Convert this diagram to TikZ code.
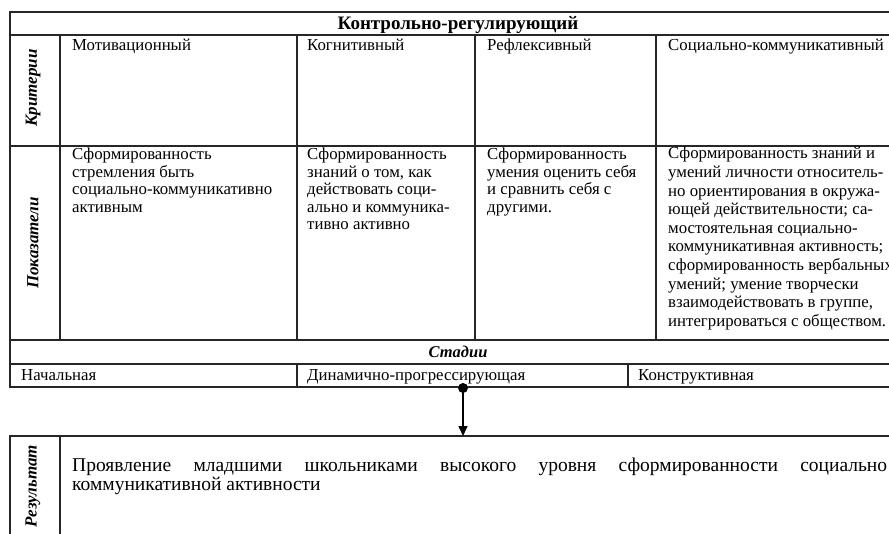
\documentclass[tikz,border=0pt]{standalone}
\usepackage{fontspec}
\setmainfont{Liberation Serif}
\usetikzlibrary{arrows.meta}
\begin{document}
\begin{tikzpicture}[x=1pt,y=-1pt,
  grid/.style={line width=1.3pt, draw=black!85},
  celltext/.style={anchor=north west, inner sep=0pt, align=left,
    font=\fontsize{16.8}{17.5}\selectfont, execute at begin node=\strut},
  headtext/.style={anchor=base, inner sep=0pt,
    font=\fontsize{19}{21}\selectfont\bfseries},
  stagehead/.style={anchor=base, inner sep=0pt,
    font=\fontsize{16.5}{18}\selectfont\bfseries\itshape},
  sidelabel/.style={rotate=90, inner sep=0pt,
    font=\fontsize{17}{19}\selectfont\bfseries\itshape},
  flow/.style={line width=1.6pt, draw=black, -{Triangle[length=10pt,width=9pt]}},
]
\useasboundingbox (0,0) rectangle (889,533);
\clip (0,0) rectangle (889,533);

% ---- main table: rules ----
\draw[grid] (920,12) -- (10,12) -- (10,387) -- (920,387);
\draw[grid] (10,35) -- (920,35);
\draw[grid] (10,146) -- (920,146);
\draw[grid] (10,340) -- (920,340);
\draw[grid] (10,364) -- (920,364);
\foreach \cx in {60,297,475,656} \draw[grid] (\cx,35) -- (\cx,340);
\draw[grid] (297,364) -- (297,387);
\draw[grid] (628,364) -- (628,387);

% ---- heading ----
\node[headtext] (title) at (458,29) {Контрольно-регулирующий};

% ---- side labels ----
\node[sidelabel] (crit) at (33,88) {Критерии};
\node[sidelabel] (ind) at (33,243) {Показатели};

% ---- criteria (first baseline at y = 50.5) ----
\node[celltext] (mot) at (72,38.25) {Мотивационный};
\node[celltext] (cog) at (307,38.25) {Когнитивный};
\node[celltext] (ref) at (487,38.25) {Рефлексивный};
\node[celltext] (soc) at (668,38.25) {Социально-коммуникативный};

% ---- indicators (first baseline at y = 160) ----
\node[celltext] (motind) at (72,147.75) {Сформированность\\стремления быть\\социально-коммуникативно\\активным};
\node[celltext] (cogind) at (307,147.75) {Сформированность\\знаний о том, как\\действовать соци-\\ально и коммуника-\\тивно активно};
\node[celltext] (refind) at (487,147.75) {Сформированность\\умения оценить себя\\и сравнить себя с\\другими.};
\node[celltext, font=\fontsize{16.8}{18.6}\selectfont] (socind) at (668,147) {Сформированность знаний и\\умений личности относитель-\\но ориентирования в окружа-\\ющей действительности; са-\\мостоятельная социально-\\коммуникативная активность;\\сформированность вербальных\\умений; умение творчески\\взаимодействовать в группе,\\интегрироваться с обществом.};

% ---- stages ----
\node[stagehead] (stages) at (458,357) {Стадии};
\node[celltext] (st1) at (21,367.75) {Начальная};
\node[celltext] (st2) at (307,367.75) {Динамично-прогрессирующая};
\node[celltext] (st3) at (638,367.75) {Конструктивная};

% ---- result box ----
\draw[grid] (920,436) -- (10,436) -- (10,545);
\draw[grid] (60,436) -- (60,545);
\node[sidelabel] (res) at (33,486) {Результат};
\node[celltext, font=\fontsize{19.5}{19.5}\selectfont] (restext) at (72,457.5)
  {\makebox[815pt][s]{Проявление младшими школьниками высокого уровня сформированности социально}\\коммуникативной активности};

% ---- transition from stages to result ----
\coordinate (src) at (463,388);
\coordinate (dst) at (463,436);
\fill (src) circle (5);
\draw[flow] (src) -- (dst);
\end{tikzpicture}
\end{document}
